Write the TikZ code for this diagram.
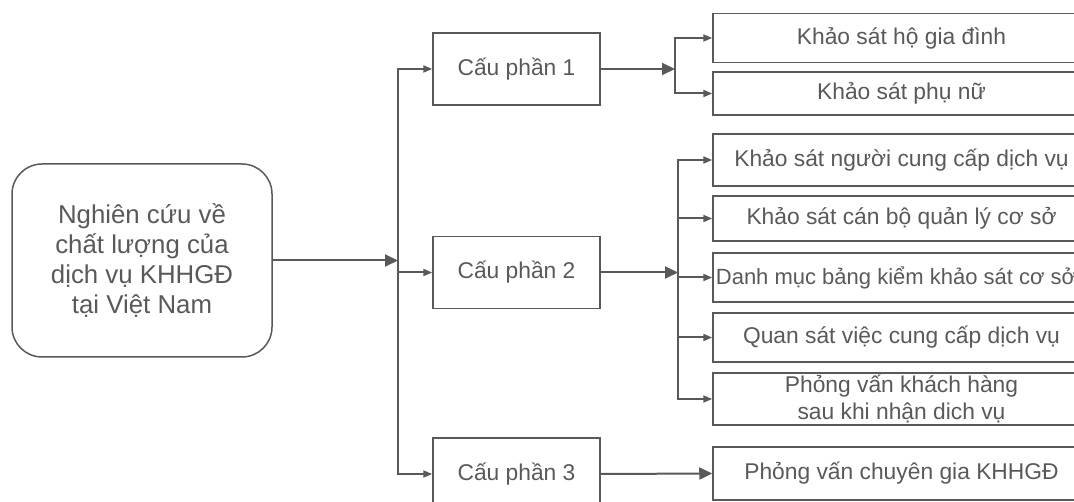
\documentclass[tikz,border=0pt]{standalone}
\usepackage{fontspec}
\setmainfont{Liberation Sans}
\usetikzlibrary{arrows.meta}
\definecolor{ink}{HTML}{595959}
\tikzset{
  box/.style={draw=ink, line width=1.5pt, text=ink, inner sep=0pt, align=center,
    font=\fontsize{22.8}{27}\selectfont},
  cpbox/.style={box, minimum width=167pt, minimum height=72pt},
  rbox/.style={box, minimum width=377pt},
  conn/.style={draw=ink, line width=2pt},
  big/.style={conn, -{Triangle[length=13pt,width=12pt]}},
  small/.style={conn, -{Triangle[length=9pt,width=7pt]}},
}
\begin{document}
\begin{tikzpicture}[x=1pt,y=-1pt]
\useasboundingbox (0,0) rectangle (1074,502);
\clip (0,0) rectangle (1074,502);
\node[box, rounded corners=30pt, minimum width=260pt, minimum height=193pt,
  font=\fontsize{25.8}{30}\selectfont] (main) at (142,260.5)
  {Nghiên cứu về\\chất lượng của\\dịch vụ KHHGĐ\\tại Việt Nam};
\node[cpbox] (cp1) at (516.5,69) {Cấu phần 1};
\node[cpbox] (cp2) at (516.5,272.5) {Cấu phần 2};
\node[cpbox] (cp3) at (516.5,474) {Cấu phần 3};
\node[rbox, minimum height=49pt] (r1) at (901.5,38) {Khảo sát hộ gia đình};
\node[rbox, minimum height=43pt] (r2) at (901.5,93.5) {Khảo sát phụ nữ};
\node[rbox, minimum height=52pt] (r3) at (901.5,160) {Khảo sát người cung cấp dịch vụ};
\node[rbox, minimum height=45pt] (r4) at (901.5,218.5) {Khảo sát cán bộ quản lý cơ sở};
\node[rbox, minimum height=49pt] (r5) at (901.5,277.5) {};
\node[text=ink, inner sep=0pt, font=\fontsize{22}{26}\selectfont] (r5t) at (896,277.5)
  {Danh mục bảng kiểm khảo sát cơ sở};
\node[rbox, minimum height=49pt] (r6) at (901.5,337.5) {Quan sát việc cung cấp dịch vụ};
\node[rbox, minimum height=52pt] (r7) at (901.5,399) {Phỏng vấn khách hàng\\sau khi nhận dich vụ};
\node[rbox, minimum height=53pt] (r8) at (901.5,473.5) {Phỏng vấn chuyên gia KHHGĐ};
\coordinate (j1) at (398,260.5);
\coordinate (j2) at (675,69);
\coordinate (j3) at (678,272.5);
\draw[big] (main.east) -- (j1);
\draw[small] (j1) |- (cp1.west);
\draw[small] (j1) |- (cp2.west);
\draw[small] (j1) |- (cp3.west);
\draw[big] (cp1.east) -- (j2);
\draw[small] (j2) |- (r1.west);
\draw[small] (j2) |- (r2.west);
\draw[big] (cp2.east) -- (j3);
\draw[small] (j3) |- (r3.west);
\draw[small] (j3) |- (r4.west);
\draw[small] (j3) |- (r5.west);
\draw[small] (j3) |- (r6.west);
\draw[small] (j3) |- (r7.west);
\draw[big] (cp3.east) -- (r8.west);
\end{tikzpicture}
\end{document}
